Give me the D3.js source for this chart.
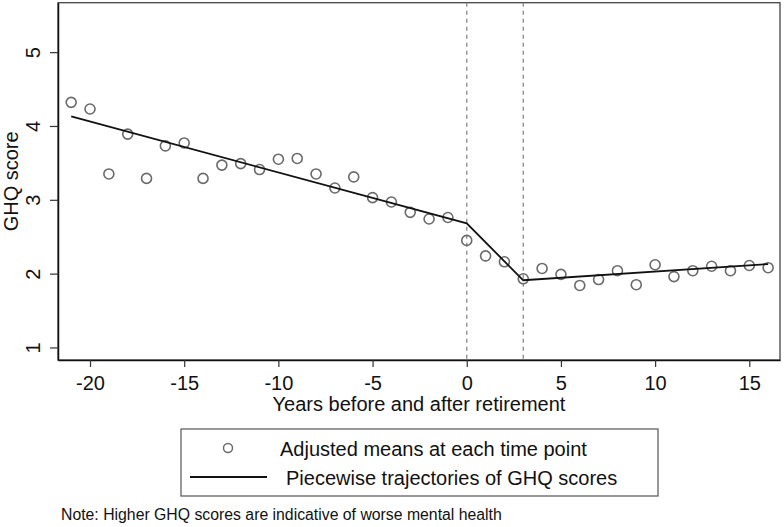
<!DOCTYPE html>
<html>
<head>
<meta charset="utf-8">
<script src="https://cdn.jsdelivr.net/npm/d3@7"></script>
<style>
  body { margin: 0; background: #fff; }
  svg { display: block; font-family: "Liberation Sans", Arial, Helvetica, sans-serif; }
</style>
</head>
<body>
<div id="chart"></div>
<script>
// data
const years = [-21,-20,-19,-18,-17,-16,-15,-14,-13,-12,-11,-10,-9,-8,-7,-6,-5,-4,-3,-2,-1,
  0,1,2,3,4,5,6,7,8,9,10,11,12,13,14,15,16];
const adjustedMeans = [4.32,4.23,3.35,3.89,3.29,3.73,3.77,3.29,3.47,3.49,3.41,3.55,3.56,3.35,3.16,3.31,3.03,2.97,2.83,2.74,2.76,
  2.45,2.24,2.16,1.93,2.07,1.99,1.84,1.92,2.04,1.85,2.12,1.96,2.04,2.10,2.04,2.11,2.08];
const knotYears = [-21, 0, 3, 16];
const knotScores = [4.13, 2.68, 1.91, 2.13];
const cutYears = [0, 3];
const xTicks = [-20,-15,-10,-5,0,5,10,15];
const yTicks = [1,2,3,4,5];

const width = 784, height = 527;
const plot = { left: 58, right: 780, top: 2.7, bottom: 360 };
const big = 20;

const svg = d3.select("#chart").append("svg")
  .attr("width", width)
  .attr("height", height);

const x = d3.scaleLinear().domain([-21.7, 16.63]).range([plot.left, plot.right]);
const y = d3.scaleLinear().domain([0.83, 5.67]).range([plot.bottom, plot.top]);

// frame
svg.append("rect")
  .attr("x", plot.left).attr("y", plot.top)
  .attr("width", plot.right - plot.left).attr("height", plot.bottom - plot.top)
  .attr("fill", "none").attr("stroke", "#444").attr("stroke-width", 1.3);

// retirement markers
svg.selectAll(".cut")
  .data(cutYears)
  .enter().append("line")
  .attr("x1", d => x(d)).attr("x2", d => x(d))
  .attr("y1", plot.top).attr("y2", plot.bottom)
  .attr("stroke", "#888").attr("stroke-width", 1.3)
  .attr("stroke-dasharray", "4,4");

// axes (plain hyphen minus, like the original)
const fmt = d => String(d);

const xAxis = svg.append("g")
  .attr("transform", `translate(0,${plot.bottom})`)
  .call(d3.axisBottom(x).tickValues(xTicks).tickFormat(fmt).tickSize(7).tickSizeOuter(0));
xAxis.select(".domain").attr("stroke", "#111").attr("stroke-width", 1.5);
xAxis.selectAll(".tick line").attr("stroke", "#333").attr("stroke-width", 1.2);
xAxis.selectAll("text").attr("font-size", big).attr("fill", "#111").attr("dy", null).attr("y", 30);

const yAxis = svg.append("g")
  .attr("transform", `translate(${plot.left},0)`)
  .call(d3.axisLeft(y).tickValues(yTicks).tickFormat(fmt).tickSize(8).tickSizeOuter(0));
yAxis.select(".domain").attr("stroke", "#111").attr("stroke-width", 1.5);
yAxis.selectAll(".tick line").attr("stroke", "#333").attr("stroke-width", 1.2);
yAxis.selectAll("text")
  .attr("x", null).attr("dy", null)
  .attr("font-size", big).attr("fill", "#111")
  .attr("text-anchor", "middle")
  .attr("transform", `translate(${40 - plot.left},0) rotate(-90)`);

// axis titles
svg.append("text")
  .attr("x", (plot.left + plot.right) / 2).attr("y", 411)
  .attr("text-anchor", "middle").attr("font-size", big).attr("fill", "#111")
  .text("Years before and after retirement");

svg.append("text")
  .attr("transform", `translate(18,${(plot.top + plot.bottom) / 2}) rotate(-90)`)
  .attr("text-anchor", "middle").attr("font-size", big).attr("fill", "#111")
  .text("GHQ score");

// points
svg.append("g")
  .selectAll("circle")
  .data(years)
  .enter().append("circle")
  .attr("cx", d => x(d))
  .attr("cy", (d, i) => y(adjustedMeans[i]))
  .attr("r", 5)
  .attr("fill", "none")
  .attr("stroke", "#6a6a6a")
  .attr("stroke-width", 1.6);

// piecewise trajectory
const line = d3.line()
  .x(d => x(d))
  .y((d, i) => y(knotScores[i]));
svg.append("path")
  .datum(knotYears)
  .attr("d", line)
  .attr("fill", "none")
  .attr("stroke", "#111")
  .attr("stroke-width", 1.8);

// legend
const legend = svg.append("g");
legend.append("rect")
  .attr("x", 181).attr("y", 429).attr("width", 477).attr("height", 67)
  .attr("fill", "#fff").attr("stroke", "#555").attr("stroke-width", 1.2);
legend.append("circle")
  .attr("cx", 228).attr("cy", 448).attr("r", 4.5)
  .attr("fill", "none").attr("stroke", "#6a6a6a").attr("stroke-width", 1.5);
legend.append("text")
  .attr("x", 280).attr("y", 456).attr("font-size", big).attr("fill", "#111")
  .text("Adjusted means at each time point");
legend.append("line")
  .attr("x1", 190).attr("x2", 267).attr("y1", 477).attr("y2", 477)
  .attr("stroke", "#111").attr("stroke-width", 1.8);
legend.append("text")
  .attr("x", 286).attr("y", 485).attr("font-size", big).attr("fill", "#111")
  .text("Piecewise trajectories of GHQ scores");

// note
svg.append("text")
  .attr("x", 61).attr("y", 520).attr("font-size", 15.8).attr("fill", "#111")
  .text("Note: Higher GHQ scores are indicative of worse mental health");
</script>
</body>
</html>
